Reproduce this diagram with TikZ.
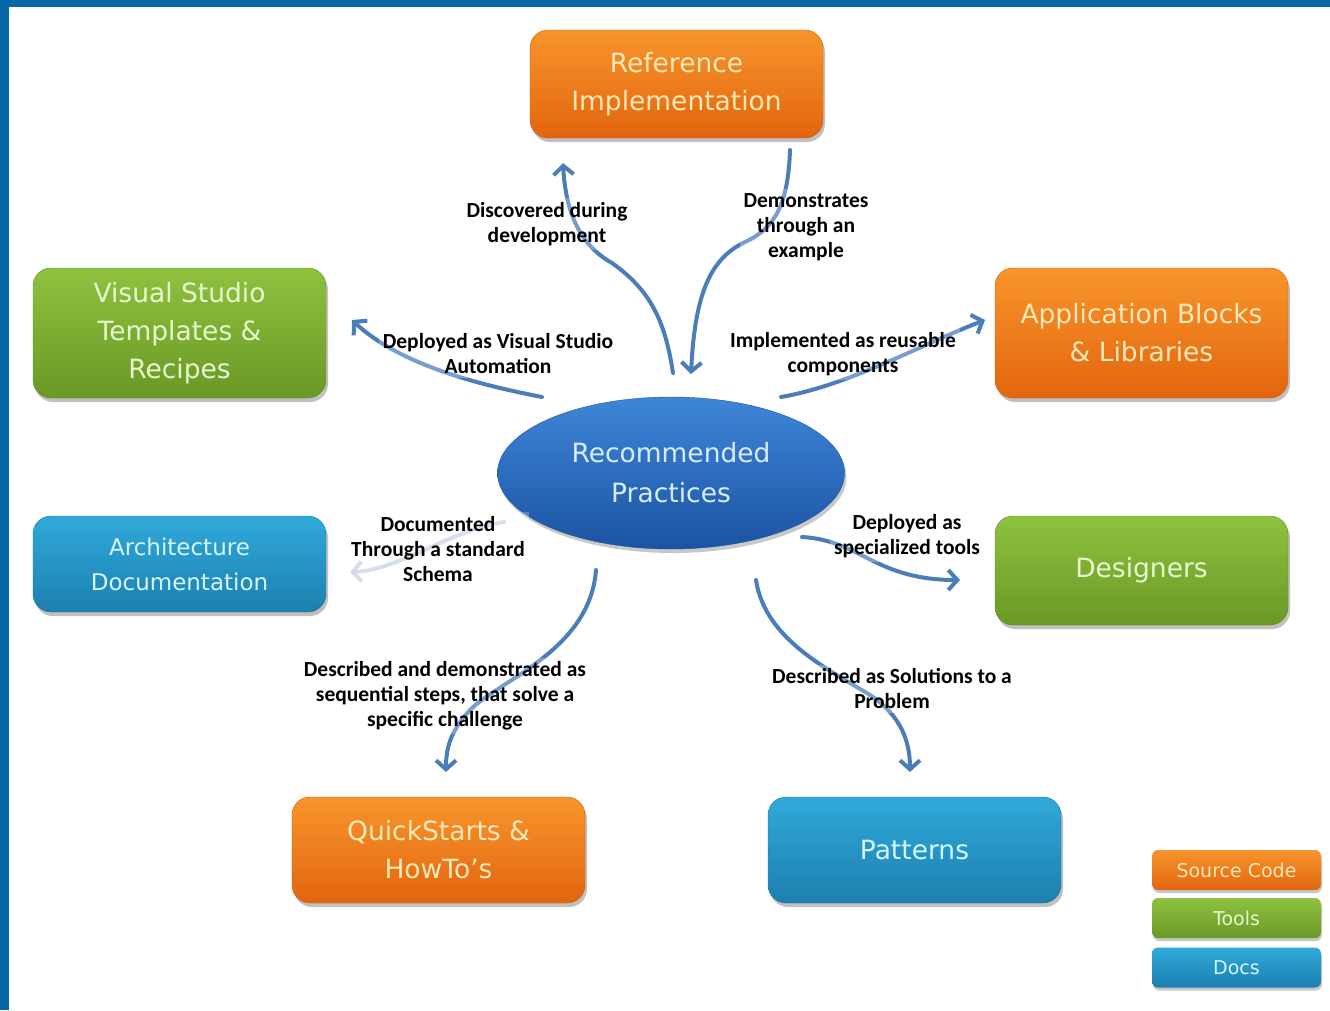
\documentclass[tikz,border=0pt]{standalone}
\usepackage{fontspec}
\setmainfont{DejaVu Sans}
\newfontfamily\lblfont{Carlito}
\usetikzlibrary{shapes.geometric,shadows,arrows.meta}
\definecolor{frameblue}{HTML}{0766A6}
\definecolor{orTop}{HTML}{F8952C}
\definecolor{orBot}{HTML}{E2650E}
\definecolor{orTxt}{HTML}{FFE9B8}
\definecolor{grTop}{HTML}{8EC23F}
\definecolor{grBot}{HTML}{6A9826}
\definecolor{grTxt}{HTML}{E9F7CF}
\definecolor{tlTop}{HTML}{30AADA}
\definecolor{tlBot}{HTML}{1C7FAF}
\definecolor{tlTxt}{HTML}{D6F6FF}
\definecolor{elTop}{HTML}{3F86D8}
\definecolor{elBot}{HTML}{1B53A2}
\definecolor{elTxt}{HTML}{D8ECFF}
\definecolor{arrowblue}{HTML}{4A7EBB}
\definecolor{fadeblue}{HTML}{B9C9DD}
\begin{document}
\begin{tikzpicture}[x=1pt,y=-1pt,
  boxbase/.style={rectangle, rounded corners=18pt, align=center, inner sep=0pt,
    minimum width=293pt, shading=axis,
    drop shadow={shadow xshift=2pt, shadow yshift=-4pt, opacity=.35, fill=black!70},
    font=\fontsize{26.5}{38}\selectfont},
  obox/.style={boxbase, top color=orTop, bottom color=orBot, draw=orBot!90!black, text=orTxt},
  gbox/.style={boxbase, top color=grTop, bottom color=grBot, draw=grBot!90!black, text=grTxt},
  tbox/.style={boxbase, top color=tlTop, bottom color=tlBot, draw=tlBot!90!black, text=tlTxt},
  legbase/.style={rectangle, rounded corners=6pt, minimum width=169pt, minimum height=40pt,
    inner sep=0pt, shading=axis, font=\fontsize{19}{22}\selectfont,
    drop shadow={shadow xshift=1pt, shadow yshift=-3pt, opacity=.3, fill=black!70}},
  lbl/.style={align=center, inner sep=4pt, fill=white, fill opacity=.25, text opacity=1,
    font=\lblfont\bfseries\fontsize{21.5}{25}\selectfont, text=black},
  conn/.style={draw=arrowblue, line width=4pt, line cap=round,
    -{Straight Barb[length=9pt, width=20pt, line width=4pt]}},
  fadeconn/.style={conn, draw=fadeblue, opacity=.8}
]
\useasboundingbox (0,0) rectangle (1330,1010);
\fill[white] (0,0) rectangle (1330,1010);
\fill[frameblue] (0,0) rectangle (9,1010);
\fill[frameblue] (0,0) rectangle (1330,7);

% central ellipse
\node[ellipse, minimum width=347pt, minimum height=152pt, inner sep=0pt, shading=axis,
  top color=elTop, bottom color=elBot, draw=elBot,
  drop shadow={shadow xshift=2pt, shadow yshift=-4pt, opacity=.3, fill=black!70},
  text=elTxt, align=center, font=\fontsize{26.5}{40}\selectfont]
  (rp) at (671,473) {Recommended\\Practices};

% boxes
\node[obox, minimum height=108pt] (ref) at (676.5,84) {Reference\\Implementation};
\node[gbox, minimum height=130pt] (vs) at (179.5,333) {Visual Studio\\Templates \&\\Recipes};
\node[obox, minimum height=130pt] (ab) at (1141.5,333) {Application Blocks\\\& Libraries};
\node[tbox, minimum height=96pt, font=\fontsize{23}{35}\selectfont] (arch) at (179.5,564) {Architecture\\Documentation};
\node[gbox, minimum height=109pt] (des) at (1141.5,570.5) {Designers};
\node[obox, minimum height=106pt] (qs) at (438.5,850) {QuickStarts \&\\HowTo's};
\node[tbox, minimum height=106pt] (pat) at (914.5,850) {Patterns};

% legend
\node[legbase, top color=orTop, bottom color=orBot, text=orTxt] (lsc) at (1236.5,870) {Source Code};
\node[legbase, top color=grTop, bottom color=grBot, text=grTxt] (ltl) at (1236.5,918) {Tools};
\node[legbase, top color=tlTop, bottom color=tlBot, text=tlTxt] (ldc) at (1236.5,967.5) {Docs};

% connector end points
\coordinate (s1) at (673,373);  \coordinate (e1) at (563,163);
\coordinate (s2) at (790,150);  \coordinate (e2) at (691,374);
\coordinate (s3) at (542,397);  \coordinate (e3) at (352,320);
\coordinate (s4) at (781,397);  \coordinate (e4) at (985,320);
\coordinate (s5) at (504,522);  \coordinate (e5) at (350,572);
\coordinate (s6) at (802,537);  \coordinate (e6) at (960,580);
\coordinate (s7) at (596,570);  \coordinate (e7) at (446,772);
\coordinate (s8) at (756,580);  \coordinate (e8) at (910,772);

% connectors
\draw[conn] (s1) .. controls (665,320) and (650,290) .. (612,263)
                 .. controls (585,248) and (566,220) .. (e1);
\draw[conn] (s2) .. controls (788,205) and (775,228) .. (745,242)
                 .. controls (712,258) and (695,290) .. (e2);
\draw[conn] (s3) .. controls (480,385) and (400,365) .. (e3);
\draw[conn] (s4) .. controls (850,385) and (920,345) .. (e4);
\draw[fadeconn] (s5) .. controls (450,530) and (400,570) .. (e5);
\draw[conn] (s6) .. controls (860,540) and (875,580) .. (e6);
\draw[conn] (s7) .. controls (590,650) and (500,680) .. (470,710)
                 .. controls (452,730) and (446,745) .. (e7);
\draw[conn] (s8) .. controls (765,640) and (830,670) .. (870,695)
                 .. controls (900,715) and (910,740) .. (e8);

% labels
\node[lbl] (l1) at (547,224) {Discovered during\\development};
\node[lbl] (l2) at (806,227) {Demonstrates\\through an\\example};
\node[lbl] (l3) at (498,354) {Deployed as Visual Studio\\Automation};
\node[lbl] (l4) at (843,354) {Implemented as reusable\\components};
\node[lbl] (l5) at (438,549) {Documented\\Through a standard\\Schema};
\node[lbl] (l6) at (907,536) {Deployed as\\specialized tools};
\node[lbl] (l7) at (445,696) {Described and demonstrated as\\sequential steps, that solve a\\specific challenge};
\node[lbl] (l8) at (892,689) {Described as Solutions to a\\Problem};
\end{tikzpicture}
\end{document}
